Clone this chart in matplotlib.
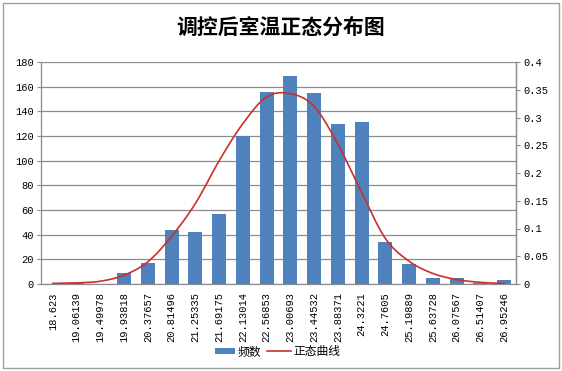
import matplotlib
matplotlib.use("Agg")
import matplotlib.pyplot as plt
import numpy as np
from matplotlib.patches import Rectangle, Patch
from matplotlib.lines import Line2D
from matplotlib.legend_handler import HandlerPatch

plt.rcParams['font.family'] = ['Noto Sans CJK SC', 'DejaVu Sans']

categories = ["18.623", "19.06139", "19.49978", "19.93818", "20.37657", "20.81496",
              "21.25335", "21.69175", "22.13014", "22.56853", "23.00693", "23.44532",
              "23.88371", "24.3221", "24.7605", "25.19889", "25.63728", "26.07567",
              "26.51407", "26.95246"]
freq = [0, 1, 0, 9, 17, 44, 42, 57, 120, 156, 169, 155, 130, 131, 34, 16, 5, 5, 1, 3]
normal_curve = [0.001, 0.002, 0.005, 0.016, 0.040, 0.086, 0.145, 0.222, 0.289, 0.337,
                0.343, 0.320, 0.252, 0.165, 0.082, 0.041, 0.019, 0.008, 0.003, 0.001]
left_ticks = [0, 20, 40, 60, 80, 100, 120, 140, 160, 180]
right_ticks = [0, 0.05, 0.1, 0.15, 0.2, 0.25, 0.3, 0.35, 0.4]
right_labels = ["0", "0.05", "0.1", "0.15", "0.2", "0.25", "0.3", "0.35", "0.4"]

title = "调控后室温正态分布图"
bar_color = "#4F81BD"
line_color = "#C9302C"
grid_color = "#8C8C8C"
mono = ['Liberation Mono', 'DejaVu Sans']


def catmull_rom(x, y, n=20):
    x = np.asarray(x, float)
    y = np.asarray(y, float)
    px = np.concatenate([[2 * x[0] - x[1]], x, [2 * x[-1] - x[-2]]])
    py = np.concatenate([[2 * y[0] - y[1]], y, [2 * y[-1] - y[-2]]])
    xs, ys = [], []
    for i in range(1, len(px) - 2):
        t = np.linspace(0, 1, n, endpoint=False)
        for arr, out in ((px, xs), (py, ys)):
            p0, p1, p2, p3 = arr[i - 1], arr[i], arr[i + 1], arr[i + 2]
            out.append(0.5 * ((2 * p1) + (-p0 + p2) * t +
                              (2 * p0 - 5 * p1 + 4 * p2 - p3) * t ** 2 +
                              (-p0 + 3 * p1 - 3 * p2 + p3) * t ** 3))
    xs = np.concatenate(xs + [[x[-1]]])
    ys = np.concatenate(ys + [[y[-1]]])
    return xs, ys


fig = plt.figure(figsize=(5.62, 3.71), dpi=100)
fig.patches.append(Rectangle((0.006, 0.008), 0.988, 0.984, transform=fig.transFigure,
                             fill=False, edgecolor="#A0A0A0", linewidth=1.0))

ax = fig.add_axes([41 / 562, 1 - 284 / 371, (516 - 41) / 562, (284 - 62) / 371])
x = np.arange(len(categories))
ax.bar(x, freq, width=0.58, color=bar_color, zorder=2)
ax.set_xlim(-0.5, len(categories) - 0.5)
ax.set_ylim(0, 180)
ax.set_yticks(left_ticks)
ax.set_xticks(x)
ax.set_xticklabels(categories, rotation=90, fontsize=7.5, family=mono)
ax.tick_params(axis='y', labelsize=7.5, length=3, color=grid_color, pad=2)
ax.tick_params(axis='x', length=0, pad=6)
for lab in ax.get_yticklabels():
    lab.set_family(mono)
ax.grid(axis='y', color=grid_color, linewidth=0.9, zorder=0)
ax.set_axisbelow(True)
ax.spines['top'].set_visible(False)
for s in ['left', 'right', 'bottom']:
    ax.spines[s].set_color(grid_color)
    ax.spines[s].set_linewidth(0.9)

ax2 = ax.twinx()
sx, sy = catmull_rom(x, normal_curve)
ax2.plot(sx, sy, color=line_color, linewidth=1.2, zorder=3)
ax2.set_ylim(0, 0.4)
ax2.set_yticks(right_ticks)
ax2.set_yticklabels(right_labels, fontsize=7.5, family=mono)
ax2.tick_params(axis='y', length=3, color=grid_color, pad=2)
for s in ['top', 'left', 'bottom']:
    ax2.spines[s].set_visible(False)
ax2.spines['right'].set_color(grid_color)
ax2.spines['right'].set_linewidth(0.9)

fig.text(0.5, 1 - 27 / 371, title, ha='center', va='center', fontsize=15, fontweight='semibold')


def small_rect(legend, orig_handle, xdescent, ydescent, width, height, fontsize):
    w = width * 0.85
    h = height * 0.75
    return Rectangle((width - w - xdescent, (height - h) / 2 - ydescent), w, h)


handles = [Patch(facecolor=bar_color, edgecolor='none'),
           Line2D([0], [0], color=line_color, linewidth=1.2)]
fig.legend(handles, ["频数", "正态曲线"], loc='center', bbox_to_anchor=(276 / 562, 1 - 352 / 371),
           ncol=2, frameon=False, fontsize=8.5, handlelength=2.0, handletextpad=0.2,
           columnspacing=0.5, handler_map={Patch: HandlerPatch(patch_func=small_rect)})

fig.savefig("out.png", dpi=100)
